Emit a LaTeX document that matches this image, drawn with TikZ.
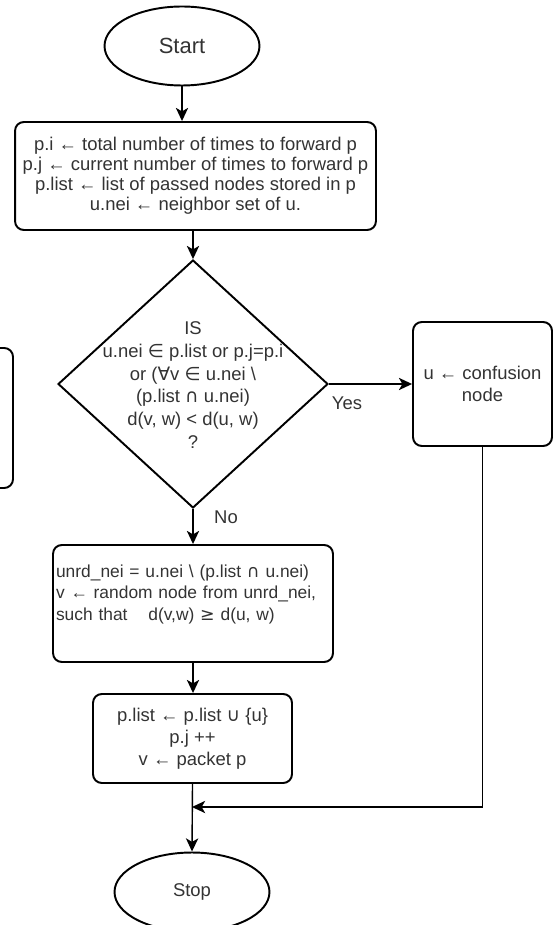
\documentclass[tikz,border=0pt]{standalone}
\usepackage{fontspec}
\setmainfont{Liberation Sans}
\newfontfamily\symfont{DejaVu Sans}
\usetikzlibrary{shapes.geometric, arrows.meta, positioning}
\definecolor{flowtext}{HTML}{333333}
\newcommand{\sy}[1]{{\symfont #1}}

\begin{document}
\begin{tikzpicture}[x=0.02cm, y=-0.02cm, font=\fontsize{10.5}{12.6}\selectfont, text=flowtext,
		terminal/.style={ellipse, draw, line width=1.1pt, minimum width=3.1cm, minimum height=1.58cm},
		stepbox/.style={rectangle, draw, line width=1.1pt, rounded corners=5pt, align=center, inner sep=0.06cm},
		flow/.style={-{Stealth[length=7.5pt, width=7pt, inset=2pt]}, line width=0.8pt}]
	\useasboundingbox (0,0) rectangle (553,925);
	\clip (0,0) rectangle (553,925);
	% box cut off at the left edge
	\draw[line width=1.1pt, rounded corners=5pt] (-10,348) -- (13,348) -- (13,488) -- (-10,488);
	\node[terminal, font=\fontsize{12.5}{14}\selectfont] (start) at (182,46) {Start};
	\node[stepbox, minimum width=7.22cm, minimum height=2.16cm, font=\fontsize{10.5}{11.4}\selectfont] (init) at (195.5,176) {p.i ← total number of times to forward p\\ p.j ← current number of times to forward p\\ p.list ← list of passed nodes stored in p\\ u.nei ← neighbor set of u.};
	\node[diamond, draw, line width=1.1pt, minimum width=5.4cm, minimum height=4.96cm, inner sep=0pt] (check) at (193,384) {};
	\node[align=center, font=\fontsize{10.5}{13}\selectfont] (cond) at (193,385) {IS\\ u.nei \sy{∈} p.list or p.j=p.i\\ or (\sy{∀}v \sy{∈} u.nei \textbackslash\\ (p.list \sy{∩} u.nei)\\ d(v, w) < d(u, w)\\ ?};
	\node[stepbox, minimum width=2.78cm, minimum height=2.48cm] (confuse) at (482.5,384) {u ← confusion\\ node};
	\node[stepbox, align=left, text width=5.48cm, text height=0.58cm, text depth=1.64cm, font=\fontsize{9.9}{12.3}\selectfont] (pick) at (193,603.5) {unrd\_nei = u.nei \textbackslash{} (p.list \sy{∩} u.nei)\\ v ← random node from unrd\_nei,\\ such that\hspace{0.3cm} d(v,w) \sy{≥} d(u, w)};
	\node[stepbox, minimum width=3.98cm, minimum height=1.78cm] (update) at (192.5,738.5) {p.list ← p.list \sy{∪} \{u\}\\ p.j ++\\ v ← packet p};
	\node[terminal] (stop) at (192,892) {Stop};
	\coordinate (join) at (192,807);
	\node (yes) at (347,403) {Yes};
	\node (no) at (226,517) {No};
	\draw[flow] (start.south) -- (start.south |- init.north);
	\draw[flow] (init.south -| check.north) -- (check.north);
	\draw[flow] (check.east) -- (confuse.west);
	\draw[flow] (check.south) -- (pick.north);
	\draw[flow] (pick.south) -- (pick.south |- update.north);
	\draw[flow] (update.south) -- (stop.north);
	\draw[flow] (confuse.south) |- (join);
\end{tikzpicture}
\end{document}
